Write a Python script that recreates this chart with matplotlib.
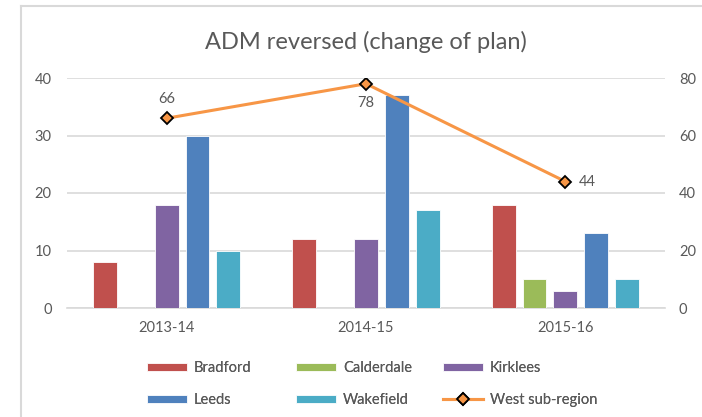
import matplotlib
matplotlib.use("Agg")
import matplotlib.pyplot as plt
import numpy as np
from matplotlib.lines import Line2D

plt.rcParams['font.family'] = ['Lato', 'DejaVu Sans']

categories = ["2013-14", "2014-15", "2015-16"]
series_names = ["Bradford", "Calderdale", "Kirklees", "Leeds", "Wakefield"]
bradford = [8, 12, 18]
calderdale = [0, 0, 5]
kirklees = [18, 12, 3]
leeds = [30, 37, 13]
wakefield = [10, 17, 5]
west = [66, 78, 44]
line_name = "West sub-region"
title = "ADM reversed (change of plan)"
left_ticks = [0, 10, 20, 30, 40]
right_ticks = [0, 20, 40, 60, 80]

colors = ["#C0504D", "#9BBB59", "#8064A2", "#4F81BD", "#4BACC6"]
line_color = "#F79646"
text_color = "#595959"
grid_color = "#D9D9D9"

W, H = 702, 417
fig = plt.figure(figsize=(W / 100, H / 100), dpi=100)
ax = fig.add_axes([67 / W, (H - 308) / H, 598 / W, 230 / H])
ax2 = ax.twinx()

x = np.arange(len(categories))
stride = 0.1545
bw = 0.12
all_series = [bradford, calderdale, kirklees, leeds, wakefield]
bars = []
for i, (vals, name, c) in enumerate(zip(all_series, series_names, colors)):
    b = ax.bar(x + (i - 2) * stride, vals, width=bw, color=c, edgecolor="white",
               linewidth=0.6, label=name, zorder=3)
    bars.append(b)

ax.set_xlim(-0.5, len(categories) - 0.5)
ax.set_ylim(0, 40)
ax.set_yticks(left_ticks)
ax.set_xticks(x)
ax.set_xticklabels(categories)
ax.yaxis.grid(True, color=grid_color, linewidth=1.2, zorder=0)
ax.set_axisbelow(True)
for s in ["top", "left", "right"]:
    ax.spines[s].set_visible(False)
ax.spines["bottom"].set_color(grid_color)
ax.spines["bottom"].set_linewidth(1.2)
ax.tick_params(axis="both", length=0, labelsize=10.5, labelcolor=text_color)
ax.tick_params(axis="y", pad=11)
ax.tick_params(axis="x", pad=9)

ax2.set_ylim(0, 80)
ax2.set_yticks(right_ticks)
for s in ["top", "left", "right", "bottom"]:
    ax2.spines[s].set_visible(False)
ax2.tick_params(axis="y", length=0, labelsize=10.5, labelcolor=text_color, pad=10)
ln, = ax2.plot(x, west, color=line_color, linewidth=2.2, marker="D", markersize=6,
               markerfacecolor=line_color, markeredgecolor="black", markeredgewidth=1.3,
               label=line_name, zorder=4)

offsets = [(0, 9, "center", "bottom"), (0, -9, "center", "top"), (10, 0, "left", "center")]
for xi, v, (dx, dy, ha, va) in zip(x, west, offsets):
    ax2.annotate(str(v), (xi, v), xytext=(dx, dy), textcoords="offset points",
                 ha=ha, va=va, fontsize=10.5, color=text_color)

fig.text(366 / W, 1 - 42 / H, title, ha="center", va="center",
         fontsize=17, color=text_color)

# Legend: three columns, each placed explicitly
columns = [
    ([bars[0], bars[3]], [series_names[0], series_names[3]], 143),
    ([bars[1], bars[4]], [series_names[1], series_names[4]], 292),
    ([bars[2], ln], [series_names[2], line_name], 439),
]
for hs, ls, xpos in columns:
    leg = fig.legend(hs, ls, ncol=1, loc="upper left",
                     bbox_to_anchor=(xpos / W, 1 - 357 / H),
                     frameon=False, fontsize=10.5, labelcolor=text_color,
                     handlelength=2.75, handleheight=0.45, handletextpad=0.45,
                     labelspacing=1.2, borderpad=0.3, borderaxespad=0)
    fig.add_artist(leg)

fig.add_artist(Line2D([21 / W, 21 / W], [0, 1 - 6 / H], transform=fig.transFigure,
                      color=grid_color, linewidth=1.5))
fig.add_artist(Line2D([21 / W, 1], [1 - 6 / H, 1 - 6 / H], transform=fig.transFigure,
                      color=grid_color, linewidth=1.5))

fig.savefig("out.png", dpi=100, facecolor="white")
